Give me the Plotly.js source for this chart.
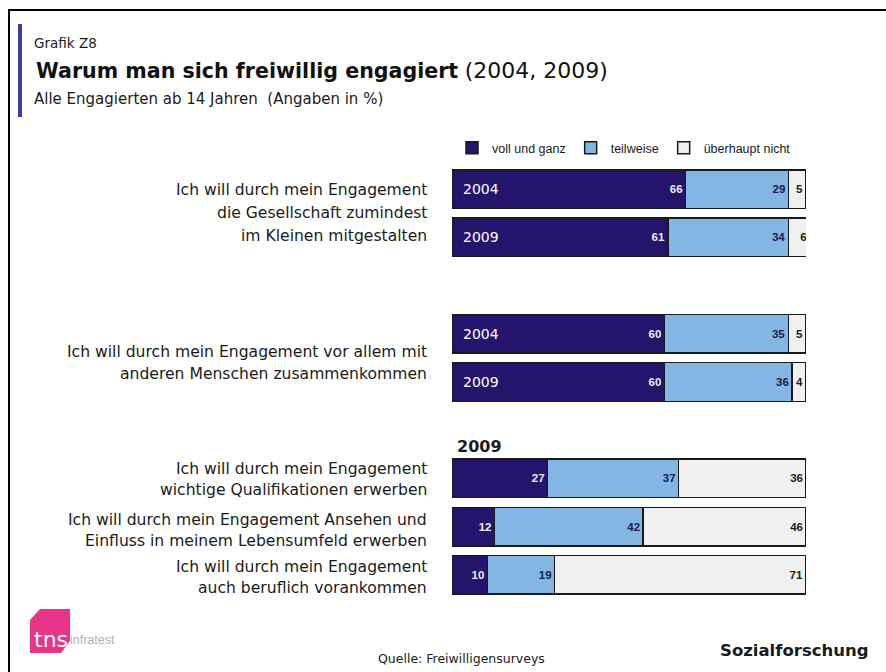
<!DOCTYPE html>
<html>
<head>
<meta charset="utf-8">
<script src="https://cdn.plot.ly/plotly-3.0.1.min.js"></script>
<style>
  html, body { margin: 0; padding: 0; background: #ffffff; }
  #chart { width: 886px; height: 672px; }
</style>
</head>
<body>
<div id="chart"></div>
<script>
// ---------------- DATA ----------------
const rowIds = ["Q1 2004", "Q1 2009", "Q2 2004", "Q2 2009", "Q3 2009", "Q4 2009", "Q5 2009"];
const axisOrder = ["Q1 2004", "Q1 2009", "gap1", "Q2 2004", "Q2 2009", "gap2", "Q3 2009", "Q4 2009", "Q5 2009"];
const yearLabels = ["2004", "2009", "2004", "2009", "", "", ""];
const seriesNames = ["voll und ganz", "teilweise", "überhaupt nicht"];
const vollUndGanz = [66, 61, 60, 60, 27, 12, 10];
const teilweise = [29, 34, 35, 36, 37, 42, 19];
const ueberhauptNicht = [5, 6, 5, 4, 36, 46, 71];
const questionLines = [
  ["Ich will durch mein Engagement", "die Gesellschaft zumindest", "im Kleinen mitgestalten"],
  ["Ich will durch mein Engagement vor allem mit", "anderen Menschen zusammenkommen"],
  ["Ich will durch mein Engagement", "wichtige Qualifikationen erwerben"],
  ["Ich will durch mein Engagement Ansehen und", "Einfluss in meinem Lebensumfeld erwerben"],
  ["Ich will durch mein Engagement", "auch beruflich vorankommen"]
];
const sectionLabel = "2009";
const chartTag = "Grafik Z8";
const titleBold = "Warum man sich freiwillig engagiert";
const titleRest = "(2004, 2009)";
const subtitle = "Alle Engagierten ab 14 Jahren  (Angaben in %)";
const sourceText = "Quelle: Freiwilligensurveys";
const brandRight = "Sozialforschung";

// ---------------- LAYOUT HELPERS ----------------
const W = 886, H = 672;
const M = { l: 452, r: 80, t: 165, b: 73 };
const PW = W - M.l - M.r, PH = H - M.t - M.b;
const X = px => (px - M.l) / PW;
const Y = py => (H - M.b - py) / PH;

const FONT = "DejaVu Sans, Liberation Sans, Arial, sans-serif";
const NARROW = "Liberation Sans, Arial, sans-serif";
const colors = ["#25146b", "#84b6e3", "#f0f0f0"];
const textColors = ["#ececf4", "#1b1b4e", "#1c1c1c"];

const values = [vollUndGanz, teilweise, ueberhauptNicht];
const traces = values.map((vals, i) => ({
  type: "bar",
  orientation: "h",
  name: seriesNames[i],
  x: vals,
  y: rowIds,
  marker: { color: colors[i], line: { color: "#1a1a1a", width: 1.5 } },
  text: vals.map(String),
  textposition: "inside",
  insidetextanchor: "end",
  textangle: 0,
  constraintext: "none",
  textfont: { family: NARROW, size: 11.5, color: textColors[i], weight: "bold" },
  hoverinfo: "skip"
}));

const annotations = [];
// year labels inside dark bars
rowIds.forEach((id, i) => {
  if (yearLabels[i]) {
    annotations.push({
      xref: "x", yref: "y", x: 0, y: id, xanchor: "left", yanchor: "middle",
      xshift: 9, showarrow: false, text: yearLabels[i],
      font: { family: FONT, size: 14, color: "#ffffff" }
    });
  }
});
// question labels (one annotation per line)
const questionLineY = [[190, 213, 236], [352, 374], [469, 490], [520, 541], [567, 588]];
questionLines.forEach((lines, q) => {
  lines.forEach((ln, k) => {
    annotations.push({
      xref: "paper", yref: "paper", x: X(429), y: Y(questionLineY[q][k]),
      xanchor: "right", yanchor: "middle", showarrow: false, text: ln,
      font: { family: FONT, size: 15.6, color: "#1a1a1a" }
    });
  });
});
// section heading "2009"
annotations.push({
  xref: "paper", yref: "paper", x: X(455), y: Y(446), xanchor: "left", yanchor: "middle",
  showarrow: false, text: "<b>" + sectionLabel + "</b>",
  font: { family: FONT, size: 16, color: "#1a1a1a" }
});
// header texts
annotations.push({
  xref: "paper", yref: "paper", x: X(32), y: Y(43), xanchor: "left", yanchor: "middle",
  showarrow: false, text: chartTag, font: { family: FONT, size: 13.5, color: "#1a1a1a" }
});
annotations.push({
  xref: "paper", yref: "paper", x: X(34), y: Y(71), xanchor: "left", yanchor: "middle",
  showarrow: false,
  text: "<b>" + titleBold + "</b> <span style='font-size:22px'>" + titleRest + "</span>",
  font: { family: FONT, size: 20.6, color: "#111111" }
});
annotations.push({
  xref: "paper", yref: "paper", x: X(32), y: Y(99), xanchor: "left", yanchor: "middle",
  showarrow: false, text: subtitle, font: { family: FONT, size: 15, color: "#1a1a1a" }
});
// footer texts
annotations.push({
  xref: "paper", yref: "paper", x: X(461), y: Y(658), xanchor: "center", yanchor: "middle",
  showarrow: false, text: sourceText, font: { family: FONT, size: 12.5, color: "#1a1a1a" }
});
annotations.push({
  xref: "paper", yref: "paper", x: X(871), y: Y(650), xanchor: "right", yanchor: "middle",
  showarrow: false, text: "<b>" + brandRight + "</b>", font: { family: FONT, size: 16.5, color: "#1a1a1a" }
});
annotations.push({
  xref: "paper", yref: "paper", x: X(32), y: Y(639), xanchor: "left", yanchor: "middle",
  showarrow: false, text: "tns", font: { family: FONT, size: 22, color: "#ffffff" }
});
annotations.push({
  xref: "paper", yref: "paper", x: X(68), y: Y(640), xanchor: "left", yanchor: "middle",
  showarrow: false, text: "infratest", font: { family: NARROW, size: 12.5, color: "#b0b0b0" }
});

const logoPts = [[40, 609], [70, 609], [70, 641], [61, 653], [30, 653], [30, 620]];
const logoPath = logoPts.map((p, i) => (i ? "L" : "M") + X(p[0]).toFixed(4) + "," + Y(p[1]).toFixed(4)).join(" ") + " Z";

const shapes = [
  // outer frame
  { type: "rect", xref: "paper", yref: "paper", x0: X(9), x1: X(1000), y0: Y(10), y1: Y(800),
    line: { color: "#000000", width: 2 }, fillcolor: "rgba(0,0,0,0)", layer: "below" },
  // blue accent bar
  { type: "rect", xref: "paper", yref: "paper", x0: X(18), x1: X(22), y0: Y(24), y1: Y(117),
    line: { width: 0 }, fillcolor: "#3c3ca2", layer: "below" },
  // logo
  { type: "path", xref: "paper", yref: "paper", path: logoPath, line: { width: 0 }, fillcolor: "#e8358a", layer: "below" }
];

const layout = {
  width: W, height: H,
  margin: M,
  paper_bgcolor: "#ffffff", plot_bgcolor: "#ffffff",
  font: { family: FONT, color: "#1a1a1a" },
  barmode: "stack",
  bargap: 0.2,
  showlegend: true,
  legend: {
    orientation: "h", x: X(452), xanchor: "left", y: Y(148), yanchor: "middle",
    font: { family: NARROW, size: 12.5, color: "#1a1a1a" }, traceorder: "normal",
    bgcolor: "rgba(0,0,0,0)", itemwidth: 30
  },
  xaxis: { range: [0, 100], visible: false, fixedrange: true },
  yaxis: {
    type: "category", categoryorder: "array", categoryarray: axisOrder,
    range: [axisOrder.length - 0.5, -0.5], showticklabels: false, showgrid: false,
    zeroline: false, showline: false, ticks: "", fixedrange: true
  },
  annotations: annotations,
  shapes: shapes
};

Plotly.newPlot("chart", traces, layout, { displayModeBar: false, staticPlot: true });
</script>
</body>
</html>
